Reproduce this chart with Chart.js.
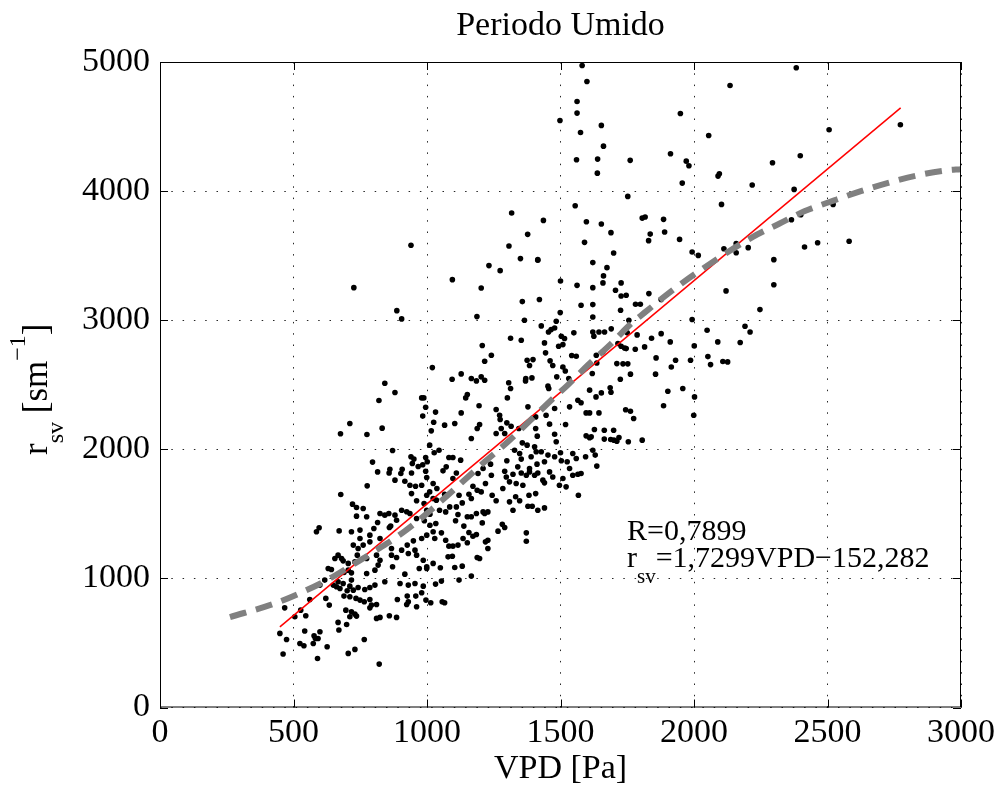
<!DOCTYPE html>
<html>
<head>
<meta charset="utf-8">
<script src="https://cdn.jsdelivr.net/npm/chart.js@4.4.1/dist/chart.umd.min.js"></script>
<style>
  html, body { margin: 0; background: #fff; }
</style>
</head>
<body>
<canvas id="myChart" width="1000" height="789"></canvas>
<script>
const obs = [
  [815,1825],[858,1817],[902,1812],[942,1817],[995,1830],[999,1781],[776,1717],[880,1761],[917,1753],[936,1722],
  [957,1714],[980,1722],[1023,1735],[677,1650],[942,1657],[961,1601],[999,1644],[1023,1619],[721,1575],[736,1549],
  [761,1541],[736,1482],[774,1477],[824,1503],[842,1490],[857,1503],[880,1490],[905,1528],[924,1516],[936,1503],
  [989,1580],[999,1528],[1011,1497],[815,1433],[864,1405],[886,1451],[586,1361],[596,1392],[671,1368],[717,1361],
  [749,1374],[801,1387],[859,1394],[961,1464],[990,1446],[1011,1412],[1033,1425],[1023,1361],[999,1335],[980,1309],
  [949,1291],[786,1335],[749,1309],[761,1258],[786,1283],[824,1309],[926,1258],[955,1219],[905,1219],[867,1232],
  [742,1232],[724,1258],[667,1180],[680,1154],[655,1154],[686,1136],[705,1116],[739,1180],[730,1128],[774,1154],
  [824,1141],[811,1180],[867,1180],[886,1162],[930,1193],[961,1180],[986,1141],[999,1090],[1023,1116],[630,1077],
  [642,1069],[705,1064],[689,1046],[717,1043],[774,1038],[805,1064],[817,1103],[871,1090],[917,1033],[971,1077],
  [999,1077],[599,948],[617,987],[649,948],[661,935],[667,974],[686,961],[717,987],[674,922],[701,904],
  [711,940],[724,909],[742,930],[767,914],[786,930],[805,948],[842,974],[899,961],[930,948],[955,961],
  [986,940],[1032,956],[561,837],[467,772],[505,703],[546,711],[527,754],[621,845],[634,793],[689,863],
  [711,858],[734,845],[749,832],[765,819],[786,837],[792,793],[811,798],[786,772],[696,754],[717,741],
  [730,723],[711,703],[736,708],[811,690],[824,698],[859,711],[886,698],[889,837],[926,863],[930,819],
  [924,798],[958,863],[961,780],[980,889],[996,832],[1014,811],[667,659],[699,643],[449,574],[474,527],
  [542,592],[577,556],[582,535],[599,587],[524,496],[539,478],[574,496],[592,535],[626,471],[670,600],
  [765,527],[705,419],[730,450],[461,414],[590,380],[821,336],
  [726,3252],[887,3074],[905,3010],[842,2512],[880,2440],[820,2378],[980,2398],[988,2398],[995,2326],[984,2257],
  [711,2200],[676,2120],[775,2115],[832,2164],[871,1991],[796,1901],[940,1942],[951,1924],[995,1937],[1001,1903],
  [945,1890],[984,1880],[967,1867],[907,1846],[861,1846],[940,3580],
  [1232,3423],[1274,3384],[1415,3464],[1621,3446],[1095,3314],[1203,3250],[1500,3304],[1562,3270],[1621,3252],[1357,3144],
  [1421,3160],[1577,3116],[1621,3121],[1499,3059],[1621,3025],[1187,3028],[1365,3000],[1484,2992],[1428,2956],[1455,2909],
  [1465,2927],[1478,2940],[1550,2902],[1621,2909],[1625,2876],[1313,2860],[1353,2845],[1503,2876],[1515,2858],[1440,2824],
  [1493,2798],[1509,2811],[1207,2804],[1241,2729],[1216,2682],[1444,2747],[1375,2690],[1397,2695],[1384,2649],[1461,2685],
  [1471,2649],[1542,2726],[1559,2721],[1509,2638],[1518,2607],[1619,2587],[1020,2633],[1094,2543],[1128,2584],[1166,2548],
  [1185,2530],[1203,2561],[1216,2535],[1306,2515],[1370,2548],[1393,2553],[1369,2530],[1486,2561],[1453,2489],[1531,2548],
  [1456,2471],[1313,2471],[1301,2398],[1151,2424],[1145,2398],[1195,2337],[1128,2282],[1032,2288],[1259,2308],[1272,2264],
  [1274,2231],[1378,2329],[1407,2251],[1446,2264],[1478,2316],[1534,2329],[1565,2380],[1577,2360],[1609,2282],[1596,2282],
  [1633,2406],[1025,2210],[1066,2187],[1104,2200],[1197,2192],[1188,2161],[1278,2161],[1299,2205],[1315,2179],[1344,2161],
  [1259,2122],[1291,2122],[1166,2084],[1016,2143],[1010,2032],[1027,1973],[1045,1993],[1082,1937],[1097,1937],[1126,1916],
  [1238,1885],[1357,2050],[1375,2032],[1407,2161],[1413,2102],[1459,2195],[1478,2117],[1519,2192],[1484,2058],[1596,2104],
  [1615,2097],[1627,2153],[1328,1993],[1347,1968],[1353,1924],[1390,1942],[1403,2019],[1409,1981],[1428,1981],[1412,1885],
  [1440,1903],[1453,1955],[1478,1942],[1500,1973],[1503,1911],[1525,1903],[1546,1968],[1559,1929],[1594,1942],[1621,1993],
  [1630,1955],[1299,1911],[1340,1864],[1072,1864],[1210,1851],[1384,1851],[1534,1851],
  [1060,1833],[1097,1774],[1110,1817],[1191,1812],[1241,1799],[1291,1830],[1297,1786],[1322,1807],[1309,1748],[1334,1735],
  [1353,1817],[1372,1799],[1384,1825],[1403,1799],[1415,1817],[1434,1761],[1440,1740],[1459,1825],[1471,1786],[1509,1774],
  [1496,1722],[1521,1709],[1546,1799],[1565,1807],[1577,1812],[1567,1644],[1037,1696],[1066,1652],[1035,1606],[1047,1528],
  [1070,1515],[1085,1554],[1110,1554],[1132,1585],[1120,1644],[1157,1652],[1166,1619],[1172,1714],[1188,1683],[1203,1670],
  [1219,1735],[1244,1644],[1259,1601],[1284,1696],[1309,1593],[1332,1632],[1347,1601],[1359,1722],[1382,1644],[1407,1657],
  [1378,1559],[1394,1559],[1415,1528],[1440,1546],[1322,1528],[1116,1495],[1107,1446],[1138,1405],[1151,1477],[1166,1477],
  [1185,1503],[1210,1515],[1228,1515],[1216,1503],[1207,1430],[1054,1353],[1029,1309],[1070,1296],[1082,1250],[1097,1250],
  [1135,1309],[1151,1276],[1157,1355],[1172,1327],[1185,1340],[1219,1283],[1228,1296],[1228,1232],[1116,1258],[1266,1366],
  [1282,1420],[1291,1394],[1372,1353],[1372,1288],[1079,1167],[1095,1172],[1188,1162],[1197,1154],[1050,1082],[1104,1085],
  [1132,1095],[1166,1018],[1120,987],[1054,979],[1057,819],[1066,811],[1010,1670],
  [1674,3407],[1661,3343],[1659,3289],[1706,3232],[1727,3289],[1727,3188],[1746,3193],[1831,3206],[2120,3227],[1781,3123],
  [1799,3123],[1725,3077],[1877,3160],[1756,3000],[1993,3005],[1644,2909],[1665,2909],[1690,2933],[1750,2902],[1787,2886],
  [1877,2896],[1841,2860],[1911,2832],[2049,2922],[2089,2832],[2173,2827],[2191,2953],[2210,2909],[1659,2755],[1634,2729],
  [1715,2819],[1727,2798],[1740,2785],[1746,2780],[1780,2775],[1815,2793],[1858,2708],[1636,2669],[1711,2664],[1734,2662],
  [1752,2662],[1762,2582],[1724,2543],[1856,2582],[1915,2638],[1931,2690],[1987,2690],[2001,2801],[2052,2718],[2062,2656],
  [2108,2680],[2126,2677],[1609,2458],[1653,2437],[1686,2476],[1689,2442],[1644,2282],[1744,2306],[1762,2295],[1774,2239],
  [1886,2337],[1902,2450],[1958,2471],[2002,2406],[1999,2264],[1664,2148],[1699,2148],[1609,2089],[1664,2079],[1688,2076],
  [1700,2071],[1711,2063],[1719,2091],[1754,2058],[1806,2071],[1636,1870],
  [2135,4818],[1949,4601],[1653,4509],[2055,4431],[1661,4348],[1639,4248],[1761,4238],[1912,4289],[1971,4232],[1981,4196],
  [1638,4139],[2095,4134],[2090,4116],[1956,4062],[2218,4047],[1752,3959],[2103,3897],[1653,3745],[1689,3678],[1806,3791],
  [1817,3799],[1886,3781],[1836,3667],[1890,3683],[1830,3616],[1946,3626],[1699,3520],[1993,3528],[2016,3502],[2112,3554],
  [2158,3593],[2158,3523],[2203,3562],
  [1581,4973],[1599,4849],[1562,4694],[1562,4604],[1498,4547],[1575,4454],[1560,4243],[1555,3887],[1317,3830],[1436,3773],
  [1597,3763],[1377,3665],[1307,3575],[1590,3603],[1350,3477],[1415,3469],
  [2383,4955],[2506,4475],[2773,4514],[2294,4220],[2398,4274],[2375,4013],[2521,3897],[2365,3778],[2400,3817],[2414,3567],
  [2463,3600],[2581,3611],[2299,3469],[2299,3275],[2247,3082]
];

// linear fit r_sv = 1,7299 VPD - 152,282 (ends as drawn)
const fitVpd = [449, 2774];
const fitRsv = [625, 4645];

// grey dashed curve
const curveVpd = [262, 430, 530, 630, 730, 817, 917, 1017, 1216, 1303, 1384, 1465, 1527, 1602, 1690, 1765, 1823, 1908, 2002, 2219, 2319, 2413, 2525, 2625, 2724, 2830, 2943, 3000];
const curveRsv = [700, 806, 891, 992, 1116, 1227, 1366, 1534, 1903, 2058, 2218, 2380, 2497, 2651, 2819, 2974, 3072, 3214, 3356, 3644, 3747, 3843, 3928, 4000, 4062, 4119, 4160, 4170];

const xTicks = [0, 500, 1000, 1500, 2000, 2500, 3000];
const yTicks = [0, 1000, 2000, 3000, 4000, 5000];

const SERIF = '"Liberation Serif", "Times New Roman", serif';

// frame, inward ticks, title and the texts with sub/superscripts
const decor = {
  id: "decor",
  afterDraw(chart) {
    const { ctx, chartArea: a, scales } = chart;
    const x = scales.x, y = scales.y;
    ctx.save();
    ctx.strokeStyle = "#000";
    ctx.lineWidth = 1;
    ctx.strokeRect(a.left + 0.5, a.top + 0.5, a.right - a.left - 1, a.bottom - a.top - 1);
    ctx.beginPath();
    xTicks.forEach((v) => {
      const p = Math.round(x.getPixelForValue(v)) + 0.5;
      ctx.moveTo(p, a.bottom); ctx.lineTo(p, a.bottom - 8);
      ctx.moveTo(p, a.top); ctx.lineTo(p, a.top + 8);
    });
    yTicks.forEach((v) => {
      const p = Math.round(y.getPixelForValue(v)) + 0.5;
      ctx.moveTo(a.left, p); ctx.lineTo(a.left + 8, p);
      ctx.moveTo(a.right, p); ctx.lineTo(a.right - 8, p);
    });
    ctx.stroke();

    ctx.fillStyle = "#000";
    ctx.textBaseline = "alphabetic";
    ctx.textAlign = "center";
    ctx.font = "34px " + SERIF;
    ctx.fillText("Periodo Umido", (a.left + a.right) / 2, 35);

    // y axis title: r_sv [sm^-1]
    ctx.save();
    ctx.translate(47, 455);
    ctx.rotate(-Math.PI / 2);
    ctx.textAlign = "left";
    let t = 0;
    const piece = (txt, size, dy) => {
      ctx.font = size + "px " + SERIF;
      ctx.fillText(txt, t, dy);
      t += ctx.measureText(txt).width;
    };
    piece("r", 35, 0);
    piece("sv", 24, 16);
    piece(" [sm", 35, 0);
    piece("\u22121", 24, -22);
    piece("]", 35, 0);
    ctx.restore();

    // fit annotation
    ctx.textAlign = "left";
    ctx.font = "30px " + SERIF;
    ctx.fillText("R=0,7899", 627, 540);
    let u = 627;
    ctx.fillText("r", u, 567);
    u += ctx.measureText("r").width;
    ctx.font = "21px " + SERIF;
    ctx.fillText("sv", u, 583);
    u += ctx.measureText("sv").width;
    ctx.font = "30px " + SERIF;
    ctx.fillText("=1,7299VPD\u2212152,282", u, 567);
    ctx.restore();
  },
};

const tickFont = { family: SERIF, size: 34 };
const plain = (v) => String(v);

new Chart(document.getElementById("myChart"), {
  data: {
    datasets: [
      {
        type: "scatter",
        data: obs.map((p) => ({ x: p[0], y: p[1] })),
        pointRadius: 2.8,
        pointBackgroundColor: "#000",
        pointBorderWidth: 0,
        order: 3,
      },
      {
        type: "line",
        data: fitVpd.map((v, i) => ({ x: v, y: fitRsv[i] })),
        borderColor: "rgb(255,0,0)",
        borderWidth: 1.5,
        pointRadius: 0,
        order: 2,
      },
      {
        type: "line",
        data: curveVpd.map((v, i) => ({ x: v, y: curveRsv[i] })),
        borderColor: "rgb(128,128,128)",
        borderWidth: 6,
        borderDash: [17, 10],
        borderCapStyle: "butt",
        cubicInterpolationMode: "monotone",
        pointRadius: 0,
        order: 1,
      },
    ],
  },
  options: {
    responsive: false,
    animation: false,
    layout: { padding: { top: 62, right: 38, left: 0, bottom: 0 } },
    plugins: { legend: { display: false }, tooltip: { enabled: false } },
    scales: {
      x: {
        type: "linear",
        min: 0,
        max: 3000,
        afterBuildTicks: (s) => { s.ticks = xTicks.map((v) => ({ value: v })); },
        afterFit: (s) => { s.height = 81.5; },
        ticks: { color: "#000", font: tickFont, padding: 5, maxRotation: 0, callback: plain },
        grid: { color: "rgba(0,0,0,0.85)", lineWidth: 1, drawTicks: false },
        border: { display: false, dash: [1.5, 9.8] },
        title: { display: true, text: "VPD [Pa]", color: "#000", font: { family: SERIF, size: 34 }, padding: { top: 0, bottom: 0 } },
      },
      y: {
        type: "linear",
        min: 0,
        max: 5000,
        afterBuildTicks: (s) => { s.ticks = yTicks.map((v) => ({ value: v })); },
        afterFit: (s) => { s.width = 160; },
        ticks: { color: "#000", font: tickFont, padding: 10, callback: plain },
        grid: { color: "rgba(0,0,0,0.85)", lineWidth: 1, drawTicks: false },
        border: { display: false, dash: [1.5, 9.8] },
      },
    },
  },
  plugins: [decor],
});
</script>
</body>
</html>
